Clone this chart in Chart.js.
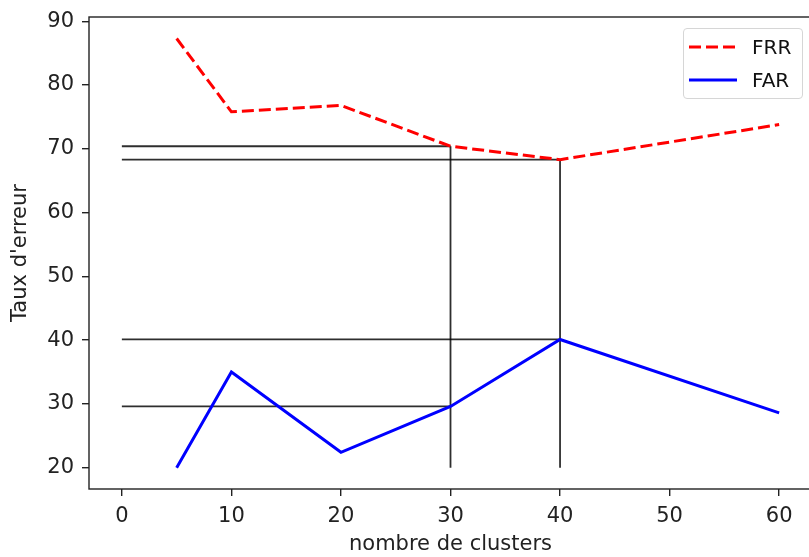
<!DOCTYPE html>
<html><head><meta charset="utf-8">
<script src="https://cdn.jsdelivr.net/npm/chart.js@4.4.0/dist/chart.umd.min.js"></script>
<style>
html,body{margin:0;padding:0;background:#fff;overflow:hidden;width:809px;height:557px}
#wrap{position:relative;width:830px;height:557px}
canvas{display:block}
#legend{position:absolute;left:683px;top:28px;width:120px;height:71px;border:1px solid #d6d6d6;border-radius:4px;background:rgba(255,255,255,0.8);box-sizing:border-box;font-family:'DejaVu Sans';font-size:20px;color:#111}
#legend .row{position:absolute;left:0;height:24px;line-height:24px}
#legend svg{position:absolute;left:4px;top:0}
#legend span{position:absolute;left:68px;top:0;white-space:nowrap}
</style></head><body>
<div id="wrap"><canvas id="c" width="830" height="557"></canvas>
<div id="legend">
 <div class="row" style="top:6px"><svg width="52" height="24"><line x1="1" y1="12" x2="49" y2="12" stroke="#ff0000" stroke-width="3" stroke-dasharray="12,5"/></svg><span>FRR</span></div>
 <div class="row" style="top:39px"><svg width="52" height="24"><line x1="1" y1="12" x2="49" y2="12" stroke="#0000ff" stroke-width="3"/></svg><span>FAR</span></div>
</div></div>
<script>
// ---- data ----
const clusters = [5, 10, 20, 30, 40, 60];
const frr = [87.3, 75.8, 76.8, 70.4, 68.3, 73.8];
const far = [20.0, 35.0, 22.4, 29.6, 40.1, 28.6];
const markedClusters = [30, 40];
const floorY = 20;
const xTicks = [0, 10, 20, 30, 40, 50, 60];
const yTicks = [20, 30, 40, 50, 60, 70, 80, 90];
const xLabel = 'nombre de clusters';
const yLabel = "Taux d'erreur";

const pts = (xs, ys) => xs.map((x, i) => ({x: x, y: ys[i]}));
const refSets = [];
markedClusters.forEach(mx => {
  const i = clusters.indexOf(mx);
  [frr[i], far[i]].forEach(v => refSets.push([{x: 0, y: v}, {x: mx, y: v}]));
  refSets.push([{x: mx, y: floorY}, {x: mx, y: frr[i]}]);
});

const FONT = {family: 'DejaVu Sans', size: 21};
const boxPlugin = {
  id: 'box',
  afterDatasetsDraw(chart) {
    const a = chart.chartArea, ctx = chart.ctx;
    ctx.save(); ctx.strokeStyle = '#222'; ctx.lineWidth = 1.4;
    ctx.strokeRect(a.left, a.top, a.right - a.left, a.bottom - a.top);
    ctx.restore();
  }
};

const datasets = [
  {label: 'FRR', data: pts(clusters, frr), borderColor: '#ff0000', borderWidth: 3, borderDash: [12, 5], pointRadius: 0, tension: 0, order: 1},
  {label: 'FAR', data: pts(clusters, far), borderColor: '#0000ff', borderWidth: 3, pointRadius: 0, tension: 0, order: 1}
].concat(refSets.map(d => ({label: '', data: d, borderColor: 'rgba(0,0,0,0.82)', borderWidth: 1.8, pointRadius: 0, order: 2})));

new Chart(document.getElementById('c'), {
  type: 'line',
  data: {datasets: datasets},
  plugins: [boxPlugin],
  options: {
    responsive: false, animation: false,
    layout: {padding: {top: 17, right: 18, bottom: 0, left: 0}},
    plugins: {legend: {display: false}, tooltip: {enabled: false}},
    scales: {
      x: {
        type: 'linear', min: -3, max: 63,
        afterBuildTicks: s => { s.ticks = xTicks.map(v => ({value: v})); },
        afterFit: s => { s.height = 68; s.paddingLeft = 0; s.paddingRight = 0; },
        grid: {display: true, drawOnChartArea: false, drawTicks: true, tickLength: 7, color: '#222', lineWidth: 1.4},
        border: {display: false},
        ticks: {font: FONT, color: '#222', padding: 8, maxRotation: 0},
        title: {display: true, text: xLabel, font: FONT, color: '#222', padding: {top: 0, bottom: 0}}
      },
      y: {
        type: 'linear', min: 16.65, max: 90.67,
        afterBuildTicks: s => { s.ticks = yTicks.map(v => ({value: v})); },
        afterFit: s => { s.width = 89; s.paddingTop = 0; s.paddingBottom = 0; },
        grid: {display: true, drawOnChartArea: false, drawTicks: true, tickLength: 7, color: '#222', lineWidth: 1.4},
        border: {display: false},
        ticks: {font: FONT, color: '#222', padding: 8},
        title: {display: true, text: yLabel, font: FONT, color: '#222', padding: {top: 8, bottom: 0}}
      }
    }
  }
});
</script>
</body></html>
